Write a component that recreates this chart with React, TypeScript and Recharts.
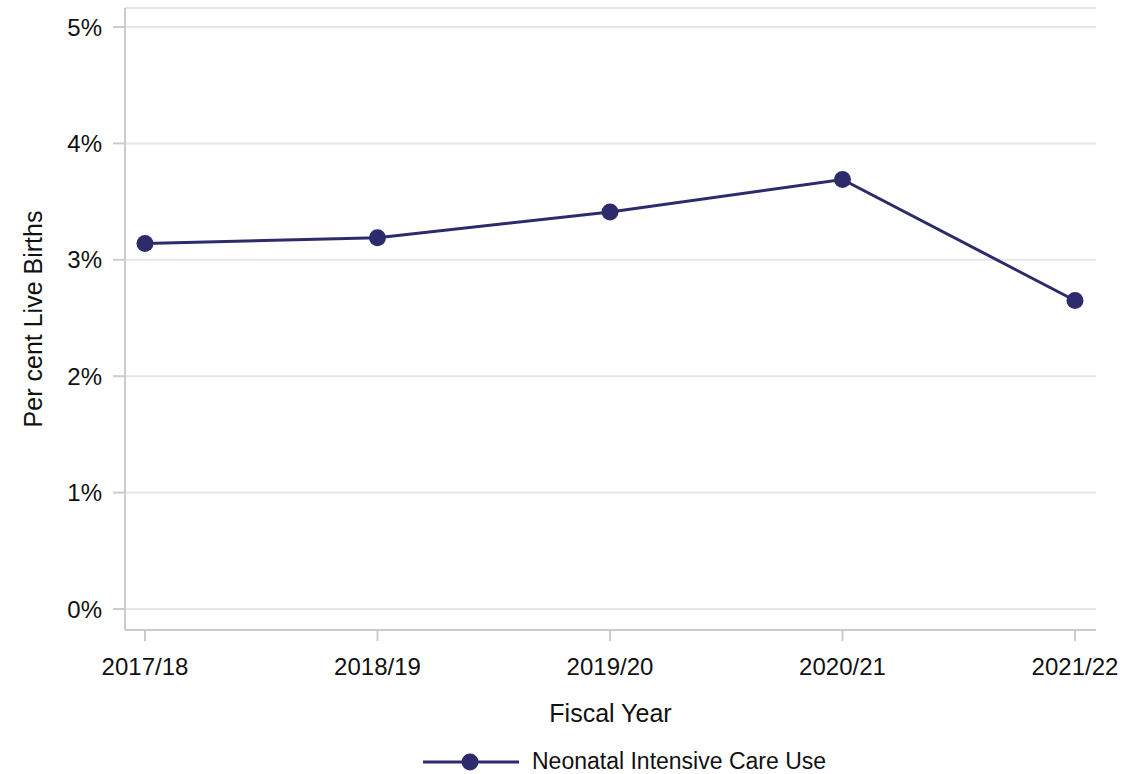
import React from 'react';
import { LineChart, Line, XAxis, YAxis, CartesianGrid, Legend } from 'recharts';

const years = ['2017/18', '2018/19', '2019/20', '2020/21', '2021/22'];
const nicuUse = [3.14, 3.19, 3.41, 3.69, 2.65];
const yTicks = [0, 1, 2, 3, 4, 5];
const seriesName = 'Neonatal Intensive Care Use';

const data = years.map((y, i) => ({ year: y, value: nicuUse[i] }));

const NAVY = '#2d2b6b';
const FRAME = '#cccccc';
const GRID = '#e6e6e6';
const FONT = '"Liberation Sans", Arial, Helvetica, sans-serif';

const renderLegend = (props: any) => {
  const payload = props.payload || [];
  return (
    <div style={{ display: 'flex', alignItems: 'center', fontFamily: FONT }}>
      {payload.map((p: any) => (
        <div key={p.value} style={{ display: 'flex', alignItems: 'center' }}>
          <svg width={96} height={24} style={{ display: 'block' }}>
            <line x1={0} y1={12} x2={96} y2={12} stroke={NAVY} strokeWidth={3} />
            <circle cx={47} cy={12} r={8.5} fill={NAVY} />
          </svg>
          <span style={{ marginLeft: 13, fontSize: 23, color: '#111' }}>{p.value}</span>
        </div>
      ))}
    </div>
  );
};

export default function App() {
  return (
    <div style={{ position: 'absolute', left: 0, top: 0, background: '#fff' }}>
      <LineChart
        width={1124}
        height={774}
        data={data}
        margin={{ top: 8, right: 28, left: 0, bottom: 14 }}
      >
        <CartesianGrid vertical={false} stroke={GRID} strokeWidth={2} />
        <XAxis
          dataKey="year"
          type="category"
          padding={{ left: 20, right: 21 }}
          height={100}
          axisLine={{ stroke: FRAME, strokeWidth: 2 }}
          tickLine={{ stroke: FRAME, strokeWidth: 2 }}
          tickSize={11}
          tickMargin={17}
          tick={{ fill: '#111', fontSize: 24, fontFamily: FONT }}
          label={{ value: 'Fiscal Year', position: 'insideBottom', offset: 8, fill: '#111', fontSize: 25, fontFamily: FONT }}
        />
        <XAxis
          xAxisId="top"
          orientation="top"
          dataKey="year"
          height={0}
          tick={false}
          tickLine={false}
          axisLine={{ stroke: FRAME, strokeWidth: 2 }}
        />
        <YAxis
          domain={[0, 5]}
          ticks={yTicks}
          width={125}
          padding={{ top: 19, bottom: 21 }}
          tickFormatter={(v: number) => `${v}%`}
          axisLine={{ stroke: FRAME, strokeWidth: 2 }}
          tickLine={{ stroke: FRAME, strokeWidth: 2 }}
          tickSize={12}
          tickMargin={11}
          tick={{ fill: '#111', fontSize: 24, fontFamily: FONT }}
          label={{ value: 'Per cent Live Births', angle: -90, position: 'insideLeft', offset: 33, style: { textAnchor: 'middle' }, fill: '#111', fontSize: 25, fontFamily: FONT }}
        />
        <YAxis
          yAxisId="right"
          orientation="right"
          domain={[0, 5]}
          width={0}
          tick={false}
          tickLine={false}
          axisLine={{ stroke: FRAME, strokeWidth: 2 }}
        />
        <Legend
          height={30}
          content={renderLegend}
          wrapperStyle={{ left: 423, top: 748, bottom: 'auto', width: 440 }}
        />
        <Line
          type="linear"
          dataKey="value"
          name={seriesName}
          stroke={NAVY}
          strokeWidth={3}
          dot={{ r: 8.5, fill: NAVY, stroke: NAVY, strokeWidth: 0 }}
          activeDot={false}
          isAnimationActive={false}
        />
      </LineChart>
    </div>
  );
}
